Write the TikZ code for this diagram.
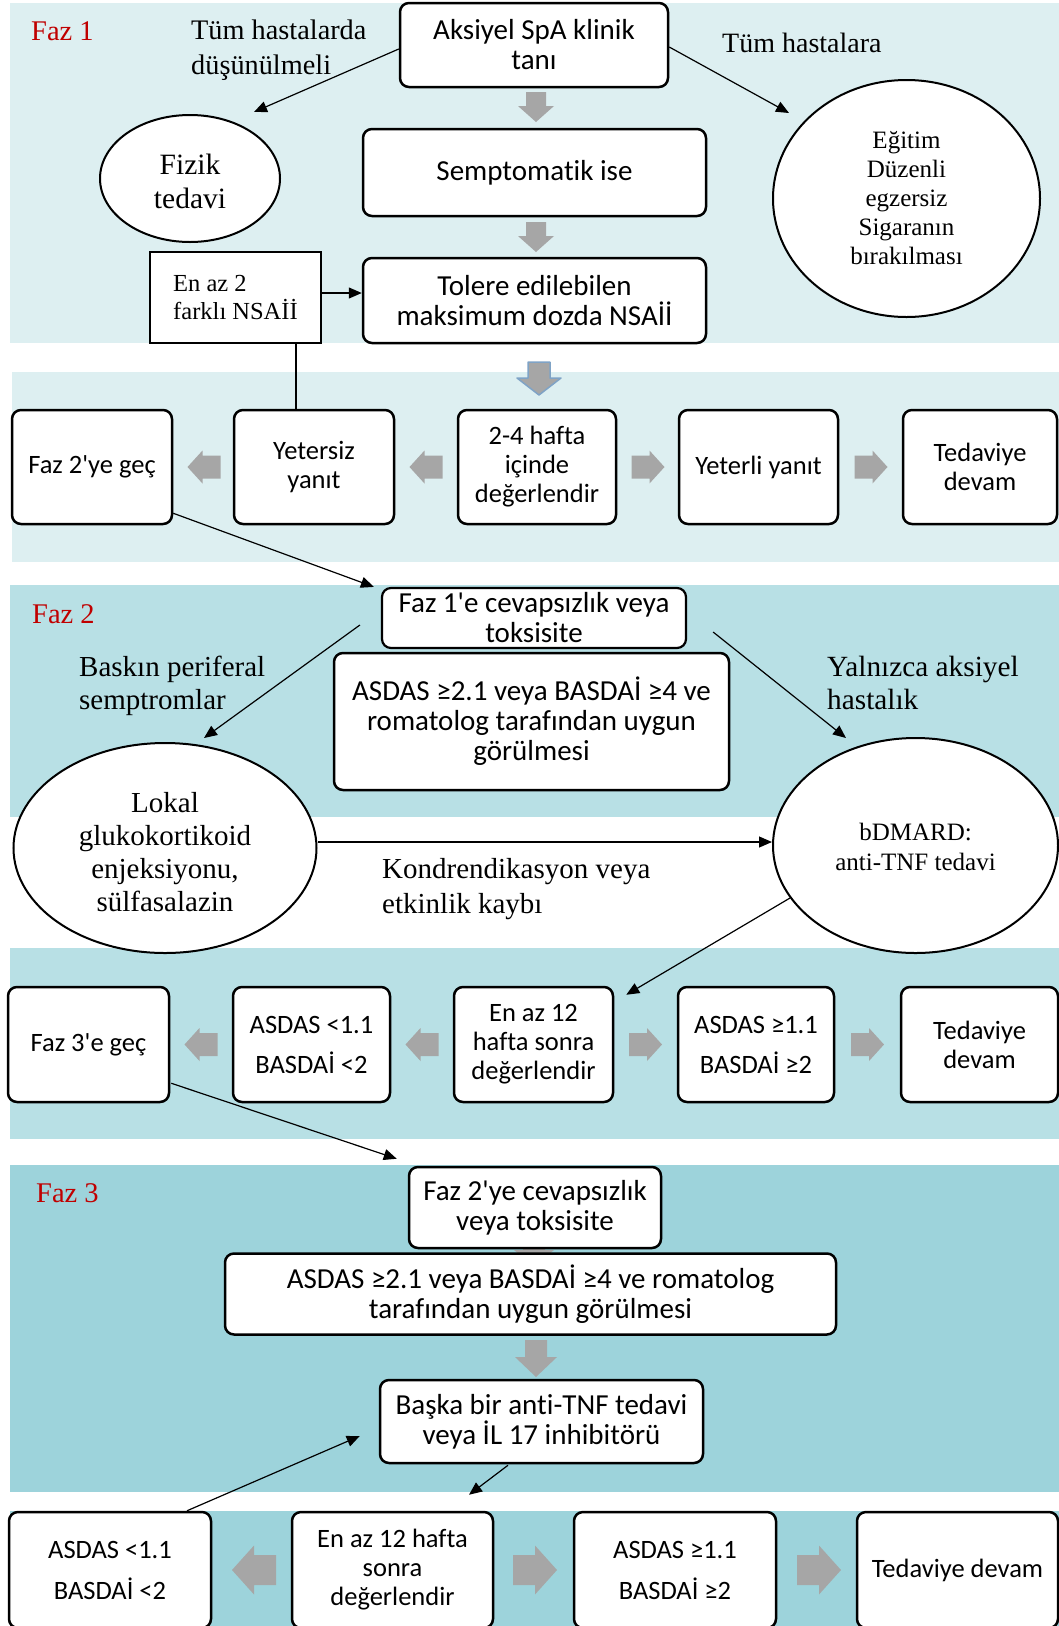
\documentclass[tikz,border=0pt]{standalone}
\usepackage{fontspec}
\setmainfont{Liberation Serif}
\newfontfamily\cfont[RawFeature=-liga]{Carlito}
\usetikzlibrary{arrows.meta,shapes.geometric,calc}
\definecolor{bgA}{HTML}{DDEFF1}
\definecolor{bgB}{HTML}{B8E0E5}
\definecolor{bgC}{HTML}{9DD3DB}
\definecolor{fazred}{HTML}{C00000}
\definecolor{garr}{HTML}{A6A6A6}
\definecolor{barr}{HTML}{7FA3C6}
\tikzset{
  rbox/.style={draw, line width=2.5pt, rounded corners=9pt, fill=white, inner sep=0pt, align=center, font=\cfont\fontsize{29}{30}\selectfont},
  rowbox/.style={rbox, font=\cfont\fontsize{26.5}{29}\selectfont},
  ell/.style={draw, ellipse, line width=2pt, fill=white, inner sep=0pt, align=center},
  etxt/.style={inner sep=0pt, align=center},
  conn/.style={line width=1.2pt, -{Triangle[length=13pt,width=11pt]}},
  lbl/.style={align=left, inner sep=0pt, font=\fontsize{29}{33}\selectfont},
  faz/.style={text=fazred, inner sep=0pt, font=\fontsize{28.5}{32}\selectfont},
  pics/barrow/.style args={#1/#2/#3/#4}{code={
    \fill[garr] (-#1/2,-#2/2) -- (#1/2-#4,-#2/2) -- (#1/2-#4,-#3/2) -- (#1/2,0) -- (#1/2-#4,#3/2) -- (#1/2-#4,#2/2) -- (-#1/2,#2/2) -- cycle;}},
  pics/barrowb/.style args={#1/#2/#3/#4}{code={
    \filldraw[fill=garr, draw=barr, line width=1.5pt, line join=round] (-#1/2,-#2/2) -- (#1/2-#4,-#2/2) -- (#1/2-#4,-#3/2) -- (#1/2,0) -- (#1/2-#4,#3/2) -- (#1/2-#4,#2/2) -- (-#1/2,#2/2) -- cycle;}}
}
\begin{document}
\begin{tikzpicture}[x=1pt, y=-1pt]
\useasboundingbox (0,0) rectangle (1059,1626);
\clip (0,0) rectangle (1059,1626);
% panels
\fill[bgA] (10,3) rectangle (1059,343);
\fill[bgA] (12,372) rectangle (1059,562);
\fill[bgB] (10,585) rectangle (1059,817);
\fill[bgB] (10,948) rectangle (1059,1139);
\fill[bgC] (10,1165) rectangle (1059,1492);
\fill[bgC] (10,1511) rectangle (1059,1626);
% hidden arrow behind panel 3 boxes
\pic[rotate=-90] at (534,1251) {barrow=30/22/40/16};

% Faz 1
\node[rbox, minimum width=268, minimum height=84] (aks) at (534,45) {Aksiyel SpA klinik\\tanı};
\node[rbox, minimum width=343, minimum height=87] (semp) at (534.5,172.5) {Semptomatik ise};
\node[rbox, minimum width=343, minimum height=85] (tol) at (534.5,300.5) {Tolere edilebilen\\maksimum dozda NSAİİ};
\node[ell, minimum width=180, minimum height=127] (fiz) at (190,178.5) {};
\node[etxt, font=\fontsize{29.5}{34}\selectfont] (fizt) at (190,181) {Fizik\\tedavi};
\node[ell, minimum width=267, minimum height=237] (egt) at (906.5,198.5) {};
\node[etxt, font=\fontsize{25}{29}\selectfont] (egtt) at (906.5,198.5) {Eğitim\\Düzenli\\egzersiz\\Sigaranın\\bırakılması};
\node[draw, line width=2.2pt, fill=white, minimum width=171, minimum height=91, align=left, inner sep=0pt, font=\fontsize{24.5}{28}\selectfont] (enaz) at (235.5,297.5) {En az 2\\farklı NSAİİ};
\node[faz, anchor=west] (fz1) at (31,31) {Faz 1};
\node[lbl, anchor=west, font=\fontsize{28.3}{35}\selectfont] (tum1) at (191,50) {Tüm hastalarda\\düşünülmeli};
\node[lbl, anchor=west, font=\fontsize{28}{33}\selectfont] (tum2) at (722,43) {Tüm hastalara};

% Faz 1 row
\node[rowbox, minimum width=160, minimum height=114] (f2) at (92,467) {Faz 2'ye geç};
\node[rowbox, minimum width=160, minimum height=114] (yet) at (314,467) {Yetersiz\\yanıt};
\node[rowbox, minimum width=158, minimum height=114] (d24) at (537,467) {2-4 hafta\\içinde\\değerlendir};
\node[rowbox, minimum width=159, minimum height=114] (yl) at (758.5,467) {Yeterli yanıt};
\node[rowbox, minimum width=154, minimum height=114] (td1) at (980,467) {Tedaviye\\devam};

% Faz 2
\node[rbox, line width=2.2pt, minimum width=304, minimum height=60] (c1) at (534,618) {Faz 1'e cevapsızlık veya\\toksisite};
\node[rbox, minimum width=395, minimum height=137] (as2) at (531.5,721.5) {ASDAS ≥2.1 veya BASDAİ ≥4 ve\\romatolog tarafından uygun\\görülmesi};
\node[ell, minimum width=303, minimum height=210] (lok) at (165,848) {};
\node[etxt, font=\fontsize{29}{33}\selectfont] (lokt) at (165,852) {Lokal\\glukokortikoid\\enjeksiyonu,\\sülfasalazin};
\node[ell, minimum width=285, minimum height=215] (bd) at (915.5,845.5) {};
\node[etxt, font=\fontsize{25}{30}\selectfont] (bdt) at (915.5,846.5) {bDMARD:\\anti-TNF tedavi};
\node[faz, anchor=west] (fz2) at (32,614) {Faz 2};
\node[lbl, anchor=west] (bask) at (79,686) {Baskın periferal\\semptromlar};
\node[lbl, anchor=west, font=\fontsize{29.3}{33}\selectfont] (yal) at (827,683) {Yalnızca aksiyel\\hastalık};
\node[lbl, anchor=west, font=\fontsize{29}{35}\selectfont] (kon) at (382,889) {Kondrendikasyon veya\\etkinlik kaybı};

% Faz 2 row
\node[rowbox, minimum width=161, minimum height=115] (f3) at (88.5,1044.5) {Faz 3'e geç};
\node[rowbox, minimum width=157, minimum height=115] (a11) at (311.5,1044.5) {ASDAS <1.1\\[11pt]BASDAİ <2};
\node[rowbox, minimum width=159, minimum height=115] (e12) at (533.5,1044.5) {En az 12\\hafta sonra\\değerlendir};
\node[rowbox, minimum width=156, minimum height=115] (b11) at (756,1044.5) {ASDAS ≥1.1\\[11pt]BASDAİ ≥2};
\node[rowbox, minimum width=157, minimum height=115] (td2) at (979.5,1044.5) {Tedaviye\\devam};

% Faz 3
\node[rbox, minimum width=252, minimum height=81] (d1) at (535,1207.5) {Faz 2'ye cevapsızlık\\veya toksisite};
\node[rbox, minimum width=611, minimum height=81] (as3) at (530.5,1294) {ASDAS ≥2.1 veya BASDAİ ≥4 ve romatolog\\tarafından uygun görülmesi};
\node[rbox, minimum width=323, minimum height=83] (bsk) at (541.5,1421.5) {Başka bir anti-TNF tedavi\\veya İL 17 inhibitörü};
\node[faz, anchor=west] (fz3) at (36,1193) {Faz 3};

% last row
\node[rowbox, minimum width=202, minimum height=116] (l1) at (110,1570) {ASDAS <1.1\\[12pt]BASDAİ <2};
\node[rowbox, minimum width=201, minimum height=116] (l2) at (392.5,1570) {En az 12 hafta\\sonra\\değerlendir};
\node[rowbox, minimum width=202, minimum height=116] (l3) at (675,1570) {ASDAS ≥1.1\\[12pt]BASDAİ ≥2};
\node[rowbox, minimum width=201, minimum height=116] (l4) at (957.5,1570) {Tedaviye devam};

% grey block arrows
\pic[rotate=-90] at (536,107) {barrow=30/20/36/16};
\pic[rotate=-90] at (536,237) {barrow=30/20/36/16};
\pic[rotate=-90] at (539,378.5) {barrowb=33/22/44/17};
\pic[rotate=180] at (204,467) {barrow=33/23/33/15};
\pic[rotate=180] at (426,467) {barrow=33/23/33/15};
\pic at (648,467) {barrow=33/23/33/15};
\pic at (871,467) {barrow=33/23/33/15};
\pic[rotate=180] at (201,1044.5) {barrow=33/23/33/15};
\pic[rotate=180] at (422,1044.5) {barrow=33/23/33/15};
\pic at (645.5,1044.5) {barrow=33/23/33/15};
\pic at (867.5,1044.5) {barrow=33/23/33/15};
\pic[rotate=-90] at (536,1358.5) {barrow=37/22/42/20};
\pic[rotate=180] at (254,1570) {barrow=44/30/49/22};
\pic at (535,1570) {barrow=44/30/49/22};
\pic at (819,1570) {barrow=44/30/49/22};

% connectors
\draw[conn] ([yshift=-4pt]aks.west) -- ($(fiz.center)+(64,-66.5)$);
\draw[conn] ([yshift=-2pt]aks.east) -- ($(egt.center)+(-117.5,-85.5)$);
\path ([yshift=4.5pt]enaz.east) coordinate (e1);
\draw[conn] (e1) -- (e1 -| tol.west);
\path ([xshift=60.5pt]enaz.south) coordinate (e2);
\draw[line width=1.2pt] (e2) -- (e2 |- yet.north);
\draw[conn] ([yshift=12pt]f2.south east) -- ($(c1.north west)+(-7,0)$);
\draw[conn] ($(c1.west)+(-21,7)$) -- ($(lok.center)+(39,-110)$);
\draw[conn] ($(c1.east)+(26,14)$) -- ($(bd.center)+(-69.5,-107.5)$);
\path ($(lok.east)+(0,-6)$) coordinate (k1);
\draw[conn] (k1) -- (k1 -| bd.west);
\draw[conn] ($(bd.center)+(-125.5,52.5)$) -- ($(e12.north east)+(12,9)$);
\draw[conn] ($(f3.south east)+(1,-20)$) -- ($(d1.north west)+(-11,-7)$);
\draw[conn] ($(bsk.south)+(-33.5,1)$) -- ($(l2.north)+(76.5,-16)$);
\draw[conn] ($(l1.north)+(77,0)$) -- ($(bsk.west)+(-19,14.5)$);
\end{tikzpicture}
\end{document}
